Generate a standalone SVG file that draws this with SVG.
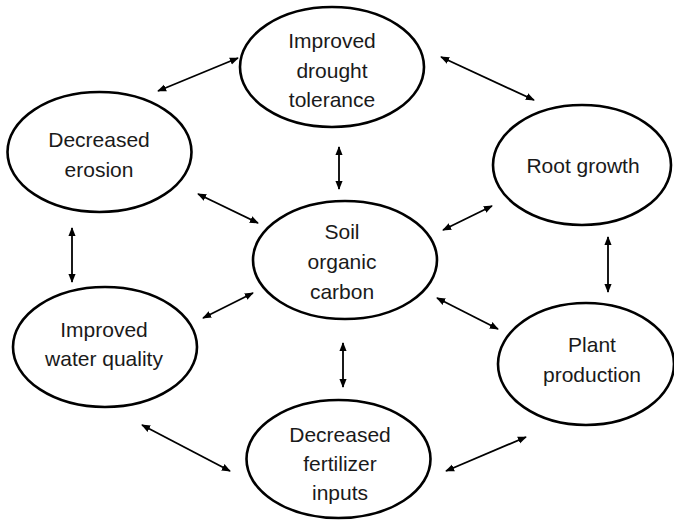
<svg xmlns="http://www.w3.org/2000/svg" width="674" height="522" viewBox="0 0 674 522">
<style>
.n{fill:#fff;stroke:#000;stroke-width:2.6}
.t{font-family:"Liberation Sans",Arial,sans-serif;font-size:21px;fill:#1a1a1a;text-anchor:middle}
.c line{stroke:#000;stroke-width:1.8;marker-start:url(#a);marker-end:url(#a)}
</style>
<defs>
<marker id="a" viewBox="0 0 10 10" refX="9" refY="5" markerWidth="5" markerHeight="5" orient="auto-start-reverse" markerUnits="strokeWidth">
<path d="M0,1 L10,5 L0,9 Z" fill="#000"/>
</marker>
</defs>
<rect width="674" height="522" fill="#fff"/>
<g id="drought"><ellipse class="n" cx="332" cy="67" rx="92" ry="60"/><text class="t" x="332" y="48">Improved</text><text class="t" x="332" y="77.5">drought</text><text class="t" x="332" y="107">tolerance</text></g>
<g id="erosion"><ellipse class="n" cx="99.5" cy="152" rx="92" ry="60"/><text class="t" x="99" y="147">Decreased</text><text class="t" x="99" y="177">erosion</text></g>
<g id="root"><ellipse class="n" cx="582" cy="165" rx="89" ry="60"/><text class="t" x="583" y="173">Root growth</text></g>
<g id="soil"><ellipse class="n" cx="345" cy="260" rx="92" ry="59"/><text class="t" x="342" y="239">Soil</text><text class="t" x="342" y="269">organic</text><text class="t" x="342" y="299">carbon</text></g>
<g id="water"><ellipse class="n" cx="105" cy="347" rx="92" ry="60"/><text class="t" x="104" y="337">Improved</text><text class="t" x="104" y="366">water quality</text></g>
<g id="plant"><ellipse class="n" cx="586" cy="364" rx="88" ry="61"/><text class="t" x="592" y="352">Plant</text><text class="t" x="592" y="382">production</text></g>
<g id="fertilizer"><ellipse class="n" cx="338.5" cy="459" rx="92" ry="59"/><text class="t" x="340" y="442">Decreased</text><text class="t" x="340" y="471">fertilizer</text><text class="t" x="340" y="500">inputs</text></g>
<g class="c" id="connectors">
<line x1="158" y1="91" x2="238" y2="58"/>
<line x1="441" y1="57" x2="534" y2="100"/>
<line x1="339" y1="147" x2="339" y2="189"/>
<line x1="198" y1="194" x2="258" y2="223"/>
<line x1="443" y1="230" x2="492" y2="206"/>
<line x1="72" y1="228" x2="72" y2="282"/>
<line x1="608" y1="237" x2="608" y2="292"/>
<line x1="203" y1="318" x2="253" y2="293"/>
<line x1="437" y1="298" x2="498" y2="329"/>
<line x1="343" y1="343" x2="343" y2="387"/>
<line x1="142" y1="425" x2="230" y2="471"/>
<line x1="446" y1="471" x2="526" y2="437"/>
</g>
</svg>
